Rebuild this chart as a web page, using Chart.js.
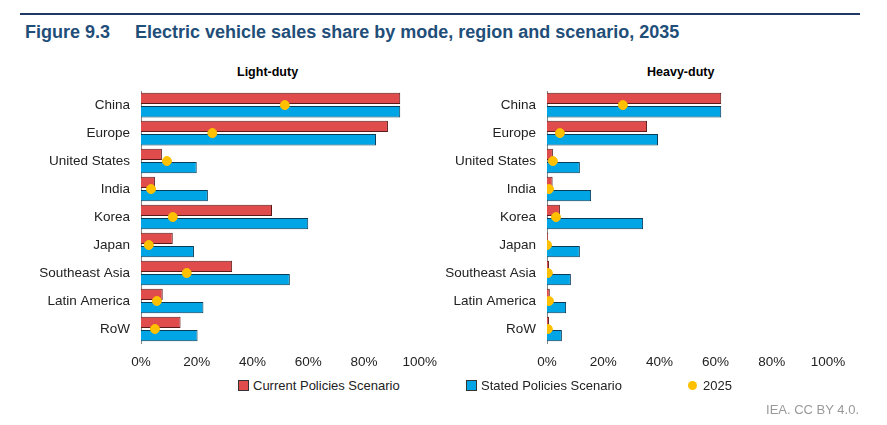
<!DOCTYPE html>
<html><head><meta charset="utf-8">
<script src="https://cdn.jsdelivr.net/npm/chart.js@4"></script>
<style>
body{margin:0;width:887px;height:425px;background:#fff;font-family:Arial,"Liberation Sans",sans-serif;position:relative;overflow:hidden}
.topline{position:absolute;left:20px;top:13px;width:840px;height:2px;background:#1F3864}
.title{position:absolute;left:25px;top:22px;font-size:18px;font-weight:bold;color:#1F4E79}
.ptitle{position:absolute;top:65px;font-size:12.5px;font-weight:bold;color:#000}
.box{position:absolute;top:80px;width:420px;height:293px}
.legend{position:absolute;top:378px;font-size:13px;color:#222;display:flex;align-items:center}
.sw{display:inline-block;width:9px;height:9px;margin-right:4px;border:1px solid #333}
.dot{display:inline-block;width:9px;height:9px;border-radius:50%;background:#FFC000;margin-right:6px}
.foot{position:absolute;right:28px;top:402px;font-size:13px;color:#999}
</style></head><body>
<div class="topline"></div>
<div class="title">Figure 9.3&nbsp;&nbsp;&nbsp;&nbsp;&nbsp;Electric vehicle sales share by mode, region and scenario, 2035</div>
<div class="ptitle" style="left:237px">Light-duty</div>
<div class="ptitle" style="left:647px">Heavy-duty</div>
<div class="box" style="left:20px"><canvas id="c1"></canvas></div>
<div class="box" style="left:430px"><canvas id="c2"></canvas></div>
<div class="legend" style="left:238px"><span class="sw" style="background:#E04B4B"></span>Current Policies Scenario</div>
<div class="legend" style="left:466px"><span class="sw" style="background:#00A5E6"></span>Stated Policies Scenario</div>
<div class="legend" style="left:688px"><span class="dot"></span>2025</div>
<div class="foot">IEA. CC BY 4.0.</div>
<script>
const regions = ['China','Europe','United States','India','Korea','Japan','Southeast Asia','Latin America','RoW'];
const lightCPS = [93, 88.6, 7.5, 5, 47, 11.4, 32.7, 7.8, 14.2];
const lightSTEPS = [93, 84.3, 20, 24, 60, 19, 53.4, 22.4, 20.3];
const light2025 = [51.6, 25.6, 9.3, 3.6, 11.4, 2.8, 16.4, 5.7, 5];
const heavyCPS = [62, 35.6, 2.1, 2, 4.6, 0.4, 0.7, 1, 0.7];
const heavySTEPS = [62, 39.5, 11.7, 15.7, 34.2, 11.7, 8.5, 6.8, 5.3];
const heavy2025 = [27, 4.6, 2.1, 0.7, 3.2, 0, 0.3, 0.7, 0.3];
const xTicks = [0, 20, 40, 60, 80, 100];

function makeChart(id, cps, steps, now, yWidth, padRight) {
    new Chart(document.getElementById(id), {
        type: 'bar',
        data: {
            labels: regions,
            datasets: [
                {type:'line', data: now, showLine:false, pointRadius:4.5, pointHoverRadius:4.5,
                 backgroundColor:'#FFC000', borderColor:'#FFC000', order:0},
                {data: cps, backgroundColor:'#E04B4B', borderColor:'#5a1a1a', borderWidth:1,
                 barPercentage:0.85, categoryPercentage:0.95, order:1},
                {data: steps, backgroundColor:'#00A5E6', borderColor:'#0a3a55', borderWidth:1,
                 barPercentage:0.85, categoryPercentage:0.95, order:1}
            ]
        },
        options: {
            indexAxis: 'y',
            responsive: true, maintainAspectRatio: false, animation: false,
            layout: {padding: {top: 5, right: padRight}},
            plugins: {legend: {display: false}, tooltip: {enabled: false}},
            scales: {
                x: {min: 0, max: 100, grid: {display: false}, border: {display: false},
                    afterBuildTicks: a => { a.ticks = xTicks.map(v => ({value: v})); },
                    afterFit: a => { a.height = 30; },
                    ticks: {callback: v => v + '%', color: '#222', font: {size: 13.5, family: 'Arial'}}},
                y: {grid: {display: false}, border: {color: '#888'},
                    afterFit: a => { a.width = yWidth; },
                    ticks: {color: '#222', font: {size: 13.5, family: 'Arial'}}}
            }
        }
    });
}
makeChart('c1', lightCPS, lightSTEPS, light2025, 121, 18);
makeChart('c2', heavyCPS, heavySTEPS, heavy2025, 117, 22);
</script>
</body></html>
